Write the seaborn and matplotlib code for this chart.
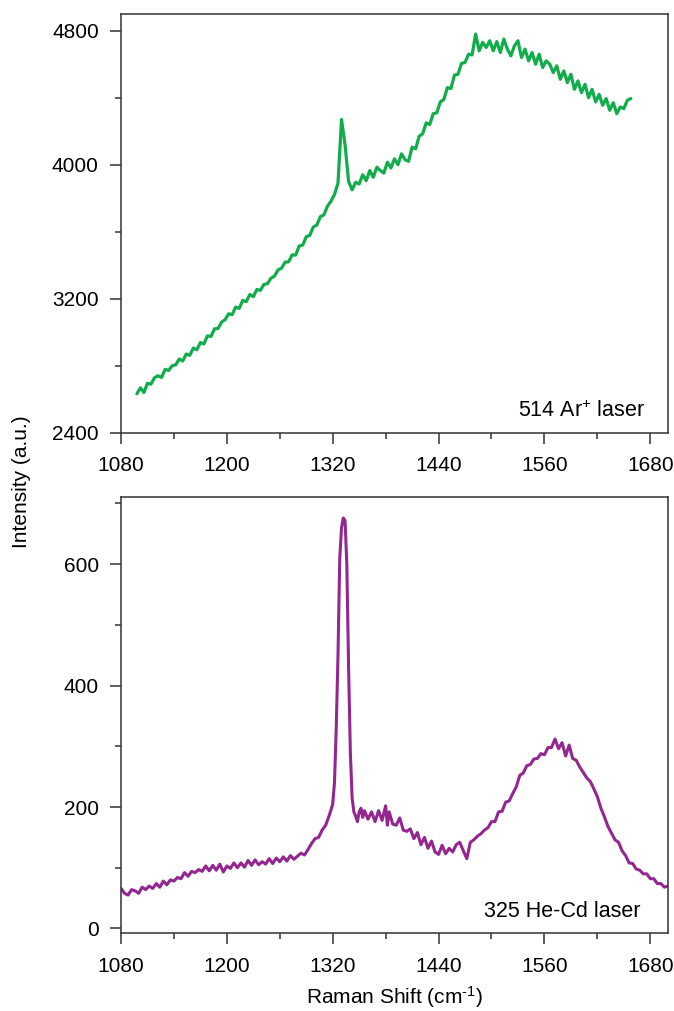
import numpy as np
import pandas as pd
import matplotlib
matplotlib.use("Agg")
import matplotlib.pyplot as plt
import seaborn as sns
from matplotlib.ticker import MultipleLocator


# ============================================================
# DATA
# ============================================================

# 514 nm Ar+ laser, sampled every 4 cm-1 from 1098 to 1658
ar_shift = np.arange(1098, 1659, 4)
ar_intensity = [
    2632, 2668, 2640, 2695, 2690, 2728, 2740, 2730, 2778, 2772,   # 1098-1134
    2800, 2805, 2840, 2828, 2870, 2862, 2905, 2895, 2938, 2930,   # 1138-1174
    2978, 2975, 3020, 3022, 3060, 3075, 3110, 3105, 3150, 3142,   # 1178-1214
    3190, 3182, 3225, 3212, 3255, 3250, 3285, 3290, 3322, 3335,   # 1218-1254
    3372, 3382, 3418, 3420, 3462, 3460, 3515, 3520, 3570, 3578,   # 1258-1294
    3628, 3640, 3690, 3700, 3752, 3782, 3822, 3890, 4270, 4120,   # 1298-1334
    3900, 3850, 3895, 3885, 3940, 3905, 3965, 3925, 3985, 3965,   # 1338-1374
    3950, 4015, 3980, 4035, 4000, 4065, 4030, 4020, 4105, 4095,   # 1378-1414
    4170, 4185, 4250, 4240, 4305, 4310, 4375, 4390, 4460, 4455,   # 1418-1454
    4535, 4540, 4605, 4610, 4660, 4655, 4780, 4680, 4730, 4700,   # 1458-1494
    4740, 4680, 4735, 4670, 4750, 4690, 4650, 4710, 4740, 4640,   # 1498-1534
    4690, 4620, 4670, 4600, 4660, 4580, 4620, 4600, 4550, 4590,   # 1538-1574
    4510, 4560, 4490, 4540, 4450, 4500, 4430, 4480, 4400, 4450,   # 1578-1614
    4375, 4420, 4355, 4395, 4325, 4370, 4305, 4345, 4335, 4385,   # 1618-1654
    4395,                                                         # 1658
]

# 325 nm He-Cd laser
hecd_shift = [
    1080, 1084, 1088, 1092, 1096, 1100, 1104, 1108, 1112, 1116,
    1120, 1124, 1128, 1132, 1136, 1140, 1144, 1148, 1152, 1156,
    1160, 1164, 1168, 1172, 1176, 1180, 1184, 1188, 1192, 1196,
    1200, 1204, 1208, 1212, 1216, 1220, 1224, 1228, 1232, 1236,
    1240, 1244, 1248, 1252, 1256, 1260, 1264, 1268, 1272, 1276,
    1280, 1284, 1288, 1292, 1296, 1300, 1304, 1308, 1312, 1316,
    1318, 1320, 1322, 1324, 1326, 1328, 1330, 1332, 1334, 1336,
    1338, 1340, 1342, 1344, 1346, 1348, 1350, 1352, 1354, 1356,
    1360, 1364, 1368, 1372, 1376, 1380, 1382, 1384, 1388, 1392,
    1396, 1400, 1404, 1408, 1412, 1416, 1420, 1424, 1428, 1432,
    1436, 1440, 1444, 1448, 1452, 1456, 1460, 1464, 1468, 1472,
    1476, 1480, 1484, 1488, 1492, 1496, 1500, 1504, 1508, 1512,
    1516, 1520, 1524, 1528, 1532, 1536, 1540, 1544, 1548, 1552,
    1556, 1560, 1564, 1568, 1572, 1576, 1580, 1584, 1588, 1592,
    1596, 1600, 1604, 1608, 1612, 1616, 1620, 1624, 1628, 1632,
    1636, 1640, 1644, 1648, 1652, 1656, 1660, 1664, 1668, 1672,
    1676, 1680, 1684, 1688, 1692, 1696, 1700,
]
hecd_intensity = [
    66, 58, 55, 64, 62, 58, 68, 64, 70, 66,
    74, 68, 78, 72, 80, 78, 84, 82, 92, 86,
    94, 92, 97, 94, 103, 95, 104, 96, 106, 93,
    103, 99, 108, 100, 108, 101, 112, 104, 113, 105,
    110, 106, 115, 107, 116, 110, 118, 111, 120, 114,
    119, 124, 121, 130, 140, 148, 150, 162, 170, 186,
    195, 205, 240, 330, 450, 610, 660, 676, 672, 600,
    430, 290, 215, 192, 185, 176, 192, 198, 183, 194,
    180, 192, 176, 194, 178, 202, 170, 192, 172, 170,
    182, 162, 160, 164, 148, 158, 138, 150, 132, 144,
    126, 122, 137, 123, 132, 126, 138, 142, 128, 115,
    142, 146, 152, 156, 162, 166, 176, 176, 192, 193,
    208, 210, 222, 233, 252, 256, 268, 270, 279, 280,
    288, 286, 298, 298, 312, 296, 306, 284, 302, 280,
    277, 266, 257, 248, 242, 230, 217, 198, 184, 168,
    157, 146, 142, 128, 120, 108, 107, 98, 96, 90,
    90, 82, 82, 74, 74, 68, 70,
]

x_ticks = [1080, 1200, 1320, 1440, 1560, 1680]
ar_yticks = [2400, 3200, 4000, 4800]
hecd_yticks = [0, 200, 400, 600]

GREEN = "#12ad4b"
PURPLE = "#93278f"
SPINE = "#333333"

# ============================================================
# STYLE
# ============================================================
sns.set_theme(style="ticks")
plt.rcParams["font.family"] = ["Liberation Sans", "DejaVu Sans"]
plt.rcParams["mathtext.fontset"] = "custom"
plt.rcParams["mathtext.rm"] = "Liberation Sans"
plt.rcParams["mathtext.default"] = "regular"
plt.rcParams["axes.edgecolor"] = SPINE
plt.rcParams["axes.linewidth"] = 1.1
plt.rcParams["text.color"] = "black"

FS = 15

fig = plt.figure(figsize=(6.74, 10.11), dpi=100)
ax_top = fig.add_axes([0.1795, 0.5720, 0.8115, 0.4142])
ax_bot = fig.add_axes([0.1795, 0.0768, 0.8115, 0.4319])

ar_df = pd.DataFrame({"shift": ar_shift, "intensity": ar_intensity})
hecd_df = pd.DataFrame({"shift": hecd_shift, "intensity": hecd_intensity})

sns.lineplot(data=ar_df, x="shift", y="intensity", ax=ax_top,
             color=GREEN, linewidth=2.3, estimator=None, sort=False)
sns.lineplot(data=hecd_df, x="shift", y="intensity", ax=ax_bot,
             color=PURPLE, linewidth=2.2, estimator=None, sort=False)


def style_axis(ax, yticks, ylim, yminor):
    ax.set_xlim(1080, 1700)
    ax.set_ylim(*ylim)
    ax.set_xticks(x_ticks)
    ax.set_yticks(yticks)
    ax.xaxis.set_minor_locator(MultipleLocator(60))
    ax.yaxis.set_minor_locator(MultipleLocator(yminor))
    ax.tick_params(which="major", direction="out", length=8, width=1.1,
                   color=SPINE, labelsize=FS, labelcolor="black", pad=8)
    ax.tick_params(which="minor", direction="out", length=4.5, width=1.1,
                   color=SPINE)
    ax.tick_params(axis="x", which="major", pad=9)
    ax.set_xlabel("")
    ax.set_ylabel("")
    for s in ax.spines.values():
        s.set_visible(True)
        s.set_color(SPINE)


style_axis(ax_top, ar_yticks, (2400, 4900), 400)
style_axis(ax_bot, hecd_yticks, (-8, 711), 100)

ax_top.text(0.958, 0.037, "514 Ar$^{+}$ laser", transform=ax_top.transAxes,
            ha="right", va="baseline", fontsize=15.5, color="black")
ax_bot.text(0.949, 0.037, "325 He-Cd laser", transform=ax_bot.transAxes,
            ha="right", va="baseline", fontsize=15.5, color="black")

fig.text(0.0326, 0.524, "Intensity (a.u.)", rotation=90, ha="center",
         va="center", fontsize=FS, color="black")
fig.text(0.585, 0.014, r"Raman Shift (cm$^{\text{-}1}$)", ha="center",
         va="center", fontsize=FS, color="black")

fig.savefig("out.png", dpi=100, facecolor="white")
